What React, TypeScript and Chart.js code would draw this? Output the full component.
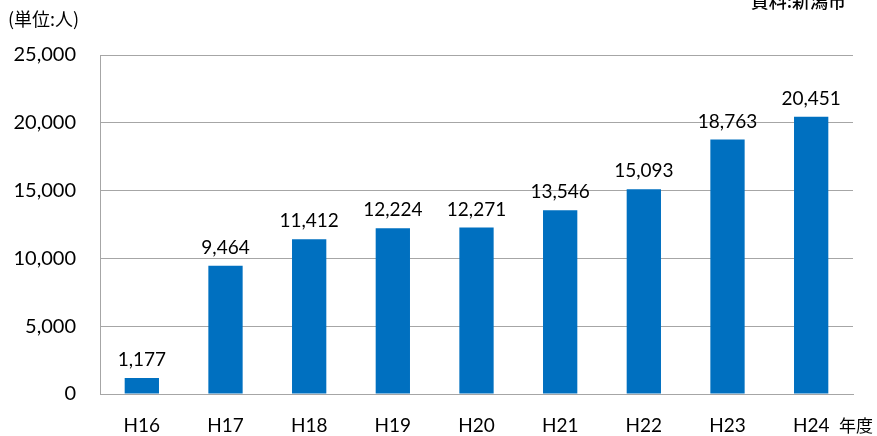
import React, { useEffect, useRef } from "react";
import { Chart, registerables } from "chart.js";

Chart.register(...registerables);

const categories = ["H16", "H17", "H18", "H19", "H20", "H21", "H22", "H23", "H24"];
const values = [1177, 9464, 11412, 12224, 12271, 13546, 15093, 18763, 20451];
const yTicks = [0, 5000, 10000, 15000, 20000, 25000];

const FONT = "Lato, 'Noto Sans CJK JP', sans-serif";
const JP = "'Noto Sans CJK JP', sans-serif";

export default function App() {
  const ref = useRef<HTMLCanvasElement | null>(null);
  useEffect(() => {
    document.body.style.margin = "0";
    const fmt = (v: number) => v.toLocaleString("en-US");
    const labelsPlugin = {
      id: "extras",
      afterDatasetsDraw(chart: any) {
        const ctx = chart.ctx;
        const meta = chart.getDatasetMeta(0);
        ctx.save();
        ctx.fillStyle = "#000";
        ctx.font = `19px ${FONT}`;
        ctx.textAlign = "center";
        ctx.textBaseline = "middle";
        meta.data.forEach((el: any, i: number) => {
          ctx.fillText(fmt(values[i]), el.x, el.y - 18);
        });
        ctx.font = `18px ${JP}`;
        ctx.textAlign = "left";
        ctx.fillText("(単位:人)", 8, 19);
        ctx.font = `17px ${JP}`;
        ctx.fillText("年度", 839, 426);
        ctx.textAlign = "right";
        ctx.font = `500 18px ${JP}`;
        ctx.fillText("資料:新潟市", 846, 1);
        ctx.restore();
      },
    };
    const chart = new Chart(ref.current as HTMLCanvasElement, {
      type: "bar",
      data: {
        labels: categories,
        datasets: [
          {
            data: values,
            backgroundColor: "#0070C0",
            categoryPercentage: 1,
            barPercentage: 0.41,
          },
        ],
      },
      options: {
        animation: false,
        responsive: false,
        maintainAspectRatio: false,
        layout: { padding: { top: 55, right: 24, bottom: 0, left: 0 } },
        plugins: { legend: { display: false }, tooltip: { enabled: false } },
        scales: {
          x: {
            grid: { display: false, drawTicks: false },
            border: { display: true, color: "#a6a6a6", width: 1 },
            ticks: { color: "#000", font: { size: 19, family: FONT }, padding: 20 },
            afterFit: (s: any) => {
              s.height = 42;
            },
          },
          y: {
            min: 0,
            max: 25000,
            afterBuildTicks: (s: any) => {
              s.ticks = yTicks.map((v) => ({ value: v }));
            },
            grid: { color: "#a6a6a6", lineWidth: 1, drawTicks: false },
            border: { display: true, color: "#a6a6a6", width: 1 },
            ticks: {
              color: "#000",
              font: { size: 20, family: FONT },
              padding: 24,
              callback: (v: any) => fmt(Number(v)),
            },
            afterFit: (s: any) => {
              s.width = 100;
            },
          },
        },
      },
      plugins: [labelsPlugin],
    });
    return () => chart.destroy();
  }, []);
  return (
    <div style={{ position: "relative", width: 877, height: 436 }}>
      <canvas ref={ref} width={877} height={436} style={{ display: "block" }} />
    </div>
  );
}
